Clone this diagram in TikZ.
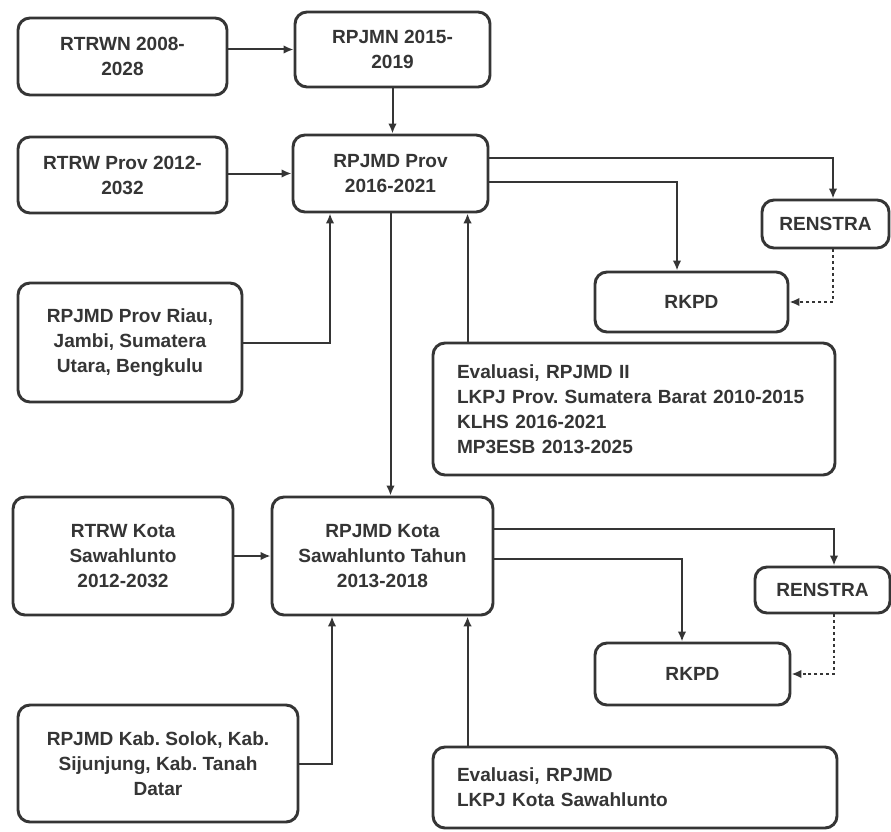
\documentclass[tikz,border=0pt]{standalone}
\usepackage{fontspec}
\setmainfont{Liberation Sans}
\usetikzlibrary{arrows.meta,calc}
\definecolor{ink}{HTML}{353535}
\frenchspacing

\begin{document}
\begin{tikzpicture}[x=0.75pt,y=-0.75pt,
  box/.style={draw=ink,line width=2.2pt,rounded corners=9pt,fill=white,
    align=center,inner sep=2pt,text=ink,
    font=\bfseries\fontsize{14.3}{18.75}\selectfont},
  listbox/.style={box,align=left,inner xsep=18pt},
  arr/.style={draw=ink,line width=1.5pt,-{Latex[length=7.5pt,width=6.5pt]}},
  dotarr/.style={arr,dash pattern=on 2.2pt off 2.2pt}]
\useasboundingbox (0,0) rectangle (891,831);
% national and provincial level
\node[box,minimum width=156.75pt,minimum height=57.75pt] (rtrwn) at (122.5,56.5) {RTRWN 2008-\\2028};
\node[box,minimum width=146.25pt,minimum height=56.25pt] (rpjmn) at (392.5,49.5) {RPJMN 2015-\\2019};
\node[box,minimum width=156.75pt,minimum height=57pt] (rtrwprov) at (122.5,175) {RTRW Prov 2012-\\2032};
\node[box,minimum width=146.25pt,minimum height=57.75pt] (rpjmdprov) at (390.5,173.5) {RPJMD Prov\\2016-2021};
\node[box,minimum width=95.25pt,minimum height=36pt] (renstraA) at (825.5,224) {RENSTRA};
\node[box,minimum width=144.75pt,minimum height=45pt] (rkpdA) at (691.5,302) {RKPD};
\node[box,minimum width=168pt,minimum height=89.25pt] (tetangga) at (130,342.5) {RPJMD Prov Riau,\\Jambi, Sumatera\\Utara, Bengkulu};
\node[listbox,text width=265.5pt,minimum height=99pt] (evalA) at (634,409) {Evaluasi, RPJMD II\\LKPJ Prov. Sumatera Barat 2010-2015\\KLHS 2016-2021\\MP3ESB 2013-2025};
% city level
\node[box,minimum width=165pt,minimum height=88.5pt] (rtrwkota) at (123,556) {RTRW Kota\\Sawahlunto\\2012-2032};
\node[box,minimum width=165.75pt,minimum height=88.5pt] (rpjmdkota) at (382.5,556) {RPJMD Kota\\Sawahlunto Tahun\\2013-2018};
\node[box,minimum width=101.25pt,minimum height=34.5pt] (renstraB) at (822.5,590) {RENSTRA};
\node[box,minimum width=146.25pt,minimum height=46.5pt] (rkpdB) at (692.5,674) {RKPD};
\node[box,minimum width=210pt,minimum height=87.75pt] (kab) at (158,763.5) {RPJMD Kab. Solok, Kab.\\Sijunjung, Kab. Tanah\\Datar};
\node[listbox,text width=267pt,minimum height=60.75pt] (evalB) at (635,787.5) {Evaluasi, RPJMD\\LKPJ Kota Sawahlunto};
\coordinate (evA) at ($(evalA.north west)+(36,0)$);
\coordinate (evB) at ($(evalB.north west)+(36,0)$);

\draw[arr] (rtrwn.east |- rpjmn.west) -- (rpjmn.west);
\draw[arr] (rtrwprov.east |- rpjmdprov.west) -- (rpjmdprov.west);
\draw[arr] (rpjmn.south) -- (rpjmn.south |- rpjmdprov.north);
\draw[arr] ($(rpjmdprov.east)+(0,-15.5)$) -| ($(renstraA.north)+(7.5,0)$);
\draw[arr] ($(rpjmdprov.east)+(0,8.5)$) -| ($(rkpdA.north)+(-14.5,0)$);
\draw[dotarr] ($(renstraA.south)+(7.5,0)$) |- (rkpdA.east);
\draw[arr] (evA) -- (evA |- rpjmdprov.south);
\draw[arr] (tetangga.east) -| ($(rpjmdprov.south)+(-60.5,0)$);
\draw[arr] (rpjmdprov.south) -- (rpjmdprov.south |- rpjmdkota.north);

\draw[arr] (rtrwkota.east) -- (rpjmdkota.west);
\draw[arr] ($(rpjmdkota.east)+(0,-27)$) -| ($(renstraB.north)+(11.5,0)$);
\draw[arr] ($(rpjmdkota.east)+(0,3)$) -| ($(rkpdB.north)+(-10.5,0)$);
\draw[dotarr] ($(renstraB.south)+(11.5,0)$) |- (rkpdB.east);
\draw[arr] (evB) -- (evB |- rpjmdkota.south);
\draw[arr] (kab.east) -| ($(rpjmdkota.south)+(-50.5,0)$);
\end{tikzpicture}
\end{document}
